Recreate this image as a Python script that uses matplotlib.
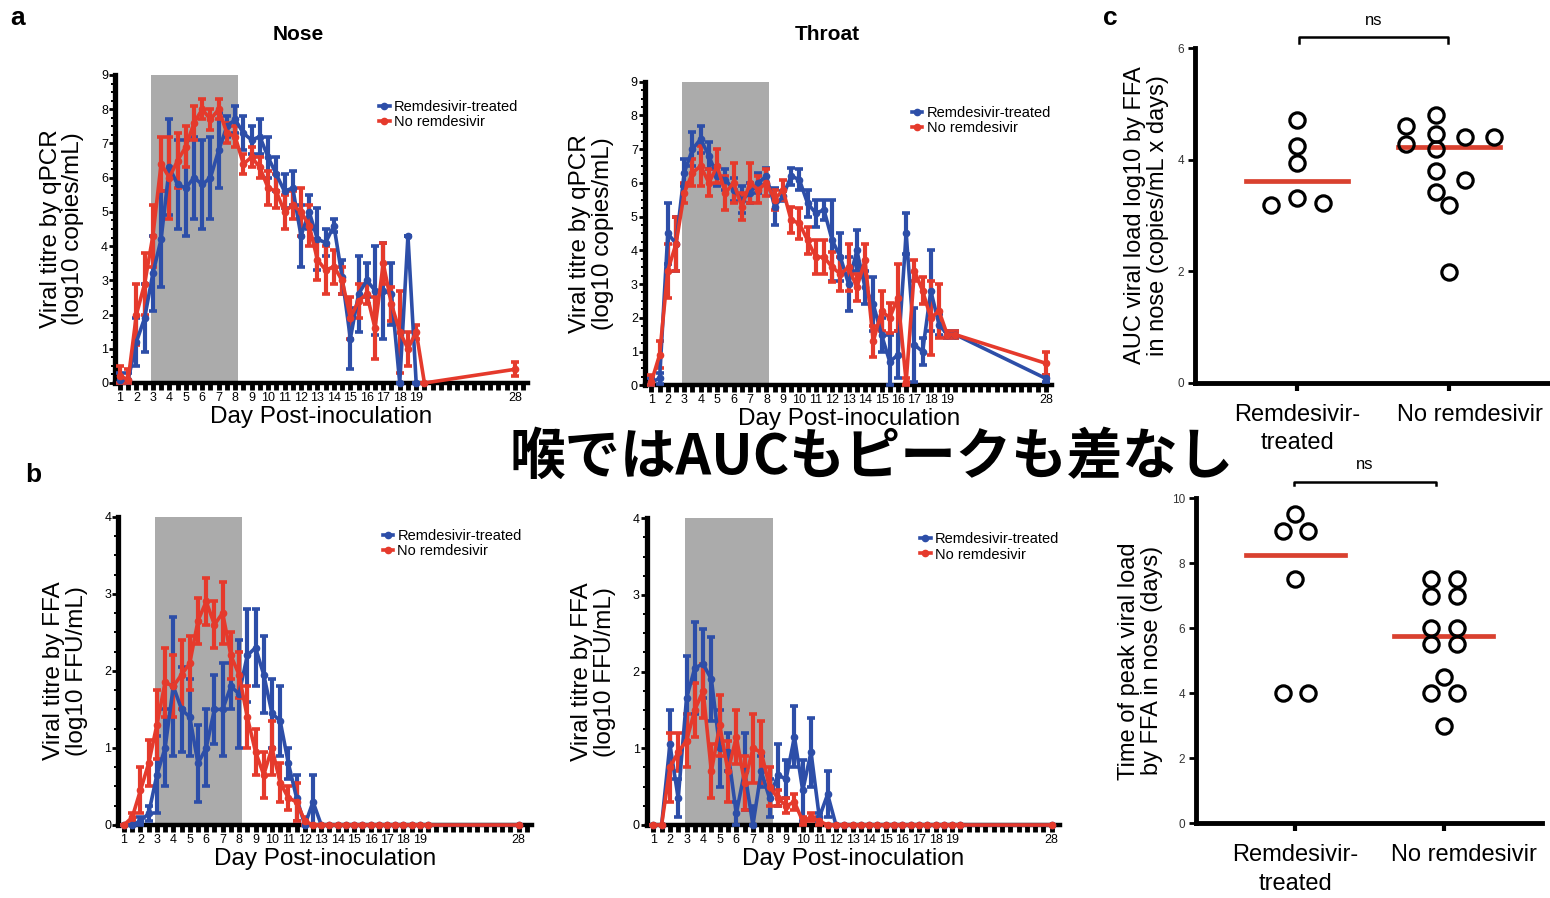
import numpy as np
import matplotlib
matplotlib.use('Agg')
import matplotlib.pyplot as plt
from matplotlib.ticker import FixedLocator, MultipleLocator

plt.rcParams['font.family'] = ['Liberation Sans', 'DejaVu Sans']

BLUE = '#2d4ea8'
RED = '#e53a2c'
SHADE = '#ababab'

# sampling days (twice daily to day 19.5, then day 28)
days = [1, 1.5, 2, 2.5, 3, 3.5, 4, 4.5, 5, 5.5, 6, 6.5, 7, 7.5, 8, 8.5, 9, 9.5, 10, 10.5,
        11, 11.5, 12, 12.5, 13, 13.5, 14, 14.5, 15, 15.5, 16, 16.5, 17, 17.5, 18, 18.5, 19, 19.5, 28]
day_labels = ['1', '2', '3', '4', '5', '6', '7', '8', '9', '10', '11', '12', '13', '14', '15',
              '16', '17', '18', '19', '28']
label_days = [1, 2, 3, 4, 5, 6, 7, 8, 9, 10, 11, 12, 13, 14, 15, 16, 17, 18, 19, 28]

nan = np.nan

# qPCR, nose (log10 copies/mL) mean and SEM
nose_pcr_rem = [0.1, 0.1, 1.2, 1.9, 3.2, 4.2, 6.3, 5.8, 5.7, 6.0, 5.8, 6.0, 6.8, 7.5, 7.7, 7.3, 7.1, 7.2, 6.6, 6.1,
                5.6, 5.7, 4.3, 5.0, 4.2, 4.1, 4.6, 3.1, 1.3, 2.6, 3.0, 2.7, 2.7, 2.6, 0.0, 4.3, 0.0, nan, nan]
nose_pcr_rem_err = [0.2, 0.2, 0.7, 1.0, 1.1, 1.4, 1.4, 1.3, 1.4, 1.2, 1.3, 1.2, 1.1, 0.3, 0.4, 0.5, 0.4, 0.5, 0.6, 0.5,
                    0.5, 0.5, 0.9, 0.5, 0.9, 0.4, 0.2, 0.5, 0.9, 1.1, 0.5, 1.3, 1.4, 0.9, 0.0, 0.0, 0.0, nan, nan]
nose_pcr_no = [0.2, 0.1, 2.0, 2.9, 4.3, 6.4, 6.0, 6.5, 6.9, 7.6, 8.0, 7.7, 8.0, 7.3, 7.2, 6.4, 6.6, 6.3, 5.7, 5.6,
               5.0, 5.2, 5.0, 4.6, 3.6, 3.3, 3.4, 3.0, 1.9, 2.4, 2.6, 1.6, 3.5, 2.3, 1.5, 1.0, 1.5, 0.0, 0.4]
nose_pcr_no_err = [0.3, 0.3, 0.9, 0.9, 0.9, 0.8, 1.2, 0.8, 0.6, 0.5, 0.3, 0.3, 0.3, 0.3, 0.3, 0.3, 0.3, 0.3, 0.5, 0.5,
                   0.5, 0.4, 0.7, 0.6, 0.6, 0.7, 0.5, 0.4, 0.6, 0.5, 0.3, 0.9, 0.6, 0.5, 1.2, 0.5, 0.2, 0.0, 0.2]

# qPCR, throat
throat_pcr_rem = [0.1, 0.2, 4.5, 4.2, 6.3, 7.0, 7.3, 6.8, 6.2, 6.1, 5.8, 5.5, 5.7, 6.0, 6.2, 5.3, 5.6, 6.2, 6.1, 5.4,
                  5.1, 5.2, 4.3, 3.8, 3.0, 4.0, 2.9, 2.4, 1.5, 0.7, 0.9, 4.5, 1.2, 1.0, 2.8, 1.8, 1.5, 1.5, 0.2]
throat_pcr_rem_err = [0.1, 0.15, 0.9, 0.8, 0.4, 0.5, 0.4, 0.4, 0.3, 0.3, 0.35, 0.4, 0.3, 0.3, 0.25, 0.55, 0.15, 0.25,
                      0.3, 0.4, 0.4, 0.3, 1.2, 0.7, 0.8, 0.6, 0.5, 0.8, 0.5, 0.8, 0.7, 0.6, 1.1, 0.4, 1.2, 0.3, 0.1,
                      0.1, 0.1]
throat_pcr_no = [0.1, 0.9, 3.4, 4.2, 5.7, 6.3, 6.5, 6.0, 6.5, 5.7, 6.0, 5.3, 6.0, 5.8, 6.0, 5.5, 5.8, 4.9, 4.8, 4.3,
                 3.8, 3.8, 3.5, 3.3, 3.5, 2.9, 3.7, 1.3, 2.2, 2.0, 2.6, 0.1, 3.4, 2.8, 2.0, 2.2, 1.5, 1.5, 0.65]
throat_pcr_no_err = [0.2, 0.4, 0.8, 0.8, 0.3, 0.4, 0.6, 0.4, 0.5, 0.5, 0.6, 0.4, 0.6, 0.4, 0.4, 0.3, 0.3, 0.4, 0.45,
                     0.4, 0.5, 0.5, 0.45, 0.5, 0.7, 0.4, 0.5, 0.45, 0.6, 0.45, 1.0, 0.1, 0.3, 0.4, 1.1, 0.8, 0.1, 0.1,
                     0.35]

# FFA, nose (log10 FFU/mL)
nose_ffa_rem = [0, 0, 0.05, 0.15, 0.65, 1.0, 1.8, 1.5, 1.4, 0.8, 1.0, 1.5, 1.5, 1.8, 1.7, 2.2, 2.3, 1.95, 1.45, 1.35,
                0.8, 0.35, 0, 0.3, 0, 0, 0, 0, 0, 0, 0, 0, 0, 0, 0, 0, 0, 0, 0]
nose_ffa_rem_err = [0, 0, 0.05, 0.1, 0.5, 0.5, 0.9, 0.55, 0.5, 0.5, 0.5, 0.45, 0.6, 0.3, 0.7, 0.6, 0.5, 0.5, 0.45, 0.45,
                    0.2, 0.3, 0, 0.35, 0, 0, 0, 0, 0, 0, 0, 0, 0, 0, 0, 0, 0, 0, 0]
nose_ffa_no = [0, 0.1, 0.45, 0.8, 1.3, 1.85, 1.8, 1.95, 2.1, 2.65, 2.9, 2.6, 2.75, 2.2, 1.95, 1.4, 0.95, 0.65, 1.0, 0.55,
               0.35, 0.3, 0.05, 0, 0, 0, 0, 0, 0, 0, 0, 0, 0, 0, 0, 0, 0, 0, 0]
nose_ffa_no_err = [0, 0.05, 0.3, 0.3, 0.45, 0.45, 0.4, 0.45, 0.35, 0.3, 0.3, 0.3, 0.4, 0.3, 0.3, 0.4, 0.3, 0.3, 0.35,
                   0.25, 0.15, 0.25, 0.05, 0, 0, 0, 0, 0, 0, 0, 0, 0, 0, 0, 0, 0, 0, 0, 0]

# FFA, throat
throat_ffa_rem = [0, 0, 1.05, 0.35, 1.65, 2.05, 2.1, 1.9, 1.0, 0.95, 0.15, 0.7, 0.0, 0.7, 0.35, 0.65, 0.6, 1.15, 0.45,
                  0.95, 0.1, 0.4, 0, 0, 0, 0, 0, 0, 0, 0, 0, 0, 0, 0, 0, 0, 0, 0, 0]
throat_ffa_rem_err = [0, 0, 0.45, 0.25, 0.55, 0.6, 0.45, 0.55, 0.5, 0.25, 0.15, 0.5, 0.25, 0.2, 0.25, 0.4, 0.25, 0.4,
                      0.4, 0.45, 0.05, 0.3, 0, 0, 0, 0, 0, 0, 0, 0, 0, 0, 0, 0, 0, 0, 0, 0, 0]
throat_ffa_no = [0, 0, 0.75, 0.95, 1.1, 1.5, 1.75, 0.7, 1.3, 0.7, 1.15, 0.55, 1.0, 0.95, 0.5, 0.35, 0.25, 0.3, 0.05,
                 0.1, 0.05, 0, 0, 0, 0, 0, 0, 0, 0, 0, 0, 0, 0, 0, 0, 0, 0, 0, 0]
throat_ffa_no_err = [0, 0, 0.45, 0.25, 0.35, 0.35, 0.35, 0.35, 0.4, 0.4, 0.35, 0.35, 0.45, 0.4, 0.25, 0.1, 0.1, 0.1,
                     0.05, 0.05, 0.05, 0, 0, 0, 0, 0, 0, 0, 0, 0, 0, 0, 0, 0, 0, 0, 0, 0, 0]

# per-animal summaries (nose, FFA)
groups = ['Remdesivir-\ntreated', 'No remdesivir']
auc_rem = [3.19, 3.31, 3.22, 3.94, 4.25, 4.71]
auc_no = [4.61, 4.28, 4.80, 4.46, 4.19, 3.80, 3.43, 3.19, 1.99, 4.40, 3.64, 4.40]
peak_rem = [9.5, 9.0, 9.0, 7.5, 4.0, 4.0]
peak_no = [7.5, 7.5, 7.0, 7.0, 6.0, 6.0, 5.5, 5.5, 4.5, 4.0, 4.0, 3.0]

# horizontal spread of the dots so they don't overlap
auc_rem_dx = [-0.17, 0, 0.17, 0, 0, 0]
auc_no_dx = [-0.285, -0.285, -0.09, -0.09, -0.09, -0.09, -0.09, 0, 0, 0.1, 0.1, 0.295]
peak_rem_dx = [0, -0.085, 0.085, 0, -0.085, 0.085]
peak_no_dx = [-0.088, 0.088, -0.088, 0.088, -0.088, 0.088, -0.088, 0.088, 0, -0.088, 0.088, 0]


def day_pos(d):
    # the stretch between day 20 and day 28 is squeezed on the axis
    return d if d <= 20 else 20 + (d - 20) * 5 / 8


fig = plt.figure(figsize=(15.5, 8.98), dpi=100)
W, H = 1550.0, 898.0


def draw_course(rect, rem, rem_err, no, no_err, ymax, xlim, ylabel, leg_xy):
    ax = fig.add_axes(rect)
    x = [day_pos(d) for d in days]
    ax.axvspan(2.88, 8.18, color=SHADE, lw=0, zorder=0)
    handles = []
    for mean, err, col in ((rem, rem_err, BLUE), (no, no_err, RED)):
        mean = np.array(mean, dtype=float)
        err = np.array(err, dtype=float)
        lower = np.minimum(err, mean)
        eb = ax.errorbar(x, mean, yerr=[lower, err], color=col, lw=2.6, marker='o', ms=4.5,
                         capsize=3, capthick=2.6, elinewidth=3, clip_on=False, zorder=3)
        handles.append(eb[0])
    ax.set_xlim(*xlim)
    ax.set_ylim(0, ymax)
    ax.set_xticks([day_pos(d) for d in label_days])
    ax.set_xticklabels(day_labels, fontsize=9)
    ax.xaxis.set_minor_locator(FixedLocator(np.arange(0.5, xlim[1], 0.5)))
    ax.tick_params(axis='x', which='both', direction='out', length=5, width=3.5, pad=1.5)
    ax.yaxis.set_major_locator(MultipleLocator(1))
    ax.yaxis.set_minor_locator(MultipleLocator(0.25))
    ax.tick_params(axis='y', which='major', direction='out', length=4, width=2, labelsize=9, pad=1)
    ax.tick_params(axis='y', which='minor', direction='out', length=3, width=1.4)
    for s in ('top', 'right'):
        ax.spines[s].set_visible(False)
    ax.spines['left'].set_linewidth(3.8)
    ax.spines['bottom'].set_linewidth(3.2)
    ax.set_xlabel('Day Post-inoculation', fontsize=17.5, labelpad=1.5)
    ax.set_ylabel(ylabel, fontsize=17.5, labelpad=12, linespacing=1.05)
    ax.legend(handles, ['Remdesivir-treated', 'No remdesivir'], loc='upper left',
              bbox_to_anchor=leg_xy, frameon=False, fontsize=10.5, handlelength=0.7,
              handletextpad=0.3, labelspacing=0.1, borderpad=0, borderaxespad=0)
    return ax


pcr_label = 'Viral titre by qPCR\n(log10 copies/mL)'
ffa_label = 'Viral titre by FFA\n(log10 FFU/mL)'

draw_course([0.0742, 0.5735, 0.2665, 0.343], nose_pcr_rem, nose_pcr_rem_err, nose_pcr_no, nose_pcr_no_err,
            9, (0.7, 25.8), pcr_label, (0.64, 0.92))
draw_course([0.416, 0.571, 0.263, 0.338], throat_pcr_rem, throat_pcr_rem_err, throat_pcr_no, throat_pcr_no_err,
            9, (0.6, 25.4), pcr_label, (0.656, 0.92))
draw_course([0.0763, 0.0813, 0.2667, 0.3433], nose_ffa_rem, nose_ffa_rem_err, nose_ffa_no, nose_ffa_no_err,
            4, (0.65, 25.8), ffa_label, (0.64, 0.96))
draw_course([0.4172, 0.0813, 0.2667, 0.3415], throat_ffa_rem, throat_ffa_rem_err, throat_ffa_no, throat_ffa_no_err,
            4, (0.6, 25.5), ffa_label, (0.662, 0.955))


def draw_dots(rect, rem, rem_dx, no, no_dx, ymax, ystep, ylabel, bracket):
    ax = fig.add_axes(rect)
    for i, (vals, dx) in enumerate(((rem, rem_dx), (no, no_dx))):
        ax.plot([i + d for d in dx], vals, 'o', ms=11, mfc='none', mec='black', mew=2.3, zorder=3)
        med = np.median(vals)
        ax.plot([i - 0.335, i + 0.335], [med, med], color='#d9412f', lw=3.4, zorder=2)
    ax.set_xlim(-0.67, 1.66)
    ax.set_ylim(0, ymax)
    ax.set_xticks([0, 1])
    ax.set_xticklabels([])
    # group names drawn by hand; the second one sits a bit right of its tick
    for i, (name, nudge) in enumerate(zip(groups, (0, 14.5))):
        ax.annotate(name, xy=(i, 0), xycoords=('data', 'axes fraction'), xytext=(nudge, -15),
                    textcoords='offset points', ha='center', va='top', fontsize=17,
                    linespacing=1.4, annotation_clip=False)
    ax.yaxis.set_major_locator(MultipleLocator(ystep))
    ax.tick_params(axis='x', direction='out', length=6, width=3)
    ax.tick_params(axis='y', direction='out', length=5, width=2, labelsize=8.5, labelcolor='#333333', pad=3)
    for s in ('top', 'right'):
        ax.spines[s].set_visible(False)
    ax.spines['left'].set_linewidth(3.5)
    ax.spines['bottom'].set_linewidth(3.5)
    ax.set_ylabel(ylabel, fontsize=17, labelpad=6, linespacing=1.05)
    x0, x1, ylo, yhi, ytxt = bracket
    ax.plot([x0, x0, x1, x1], [ylo, yhi, yhi, ylo], color='black', lw=1.8, clip_on=False)
    ax.text((x0 + x1) / 2, ytxt, 'ns', ha='center', va='center', fontsize=12)
    return ax


draw_dots([0.771, 0.5738, 0.229, 0.3724], auc_rem, auc_rem_dx, auc_no, auc_no_dx, 6, 2,
          'AUC viral load log10 by FFA\nin nose (copies/mL x days)', (0.01, 0.99, 6.1, 6.2, 6.5))
draw_dots([0.7716, 0.0832, 0.223, 0.362], peak_rem, peak_rem_dx, peak_no, peak_no_dx, 10, 2,
          'Time of peak viral load\nby FFA in nose (days)', (-0.01, 0.95, 10.41, 10.51, 11.05))

# panel titles and letters
fig.text(298 / W, 1 - 34 / H, 'Nose', ha='center', va='center', fontsize=15, fontweight='bold')
fig.text(827 / W, 1 - 34 / H, 'Throat', ha='center', va='center', fontsize=15, fontweight='bold')
fig.text(18 / W, 1 - 18 / H, 'a', ha='center', va='center', fontsize=19, fontweight='bold')
fig.text(33 / W, 1 - 475 / H, 'b', ha='center', va='center', fontsize=19, fontweight='bold')
fig.text(1110 / W, 1 - 18 / H, 'c', ha='center', va='center', fontsize=19, fontweight='bold')

fig.text(872 / W, 1 - 458 / H, '喉ではAUCもピークも差なし', ha='center', va='center', fontsize=40,
         fontweight='bold', family=['Noto Sans CJK JP', 'DejaVu Sans'], zorder=10)

fig.savefig('out.png', dpi=100, facecolor='white')
